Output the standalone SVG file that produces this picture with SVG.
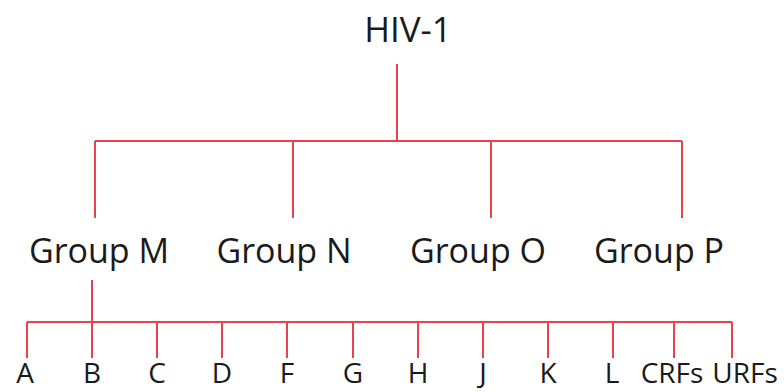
<svg xmlns="http://www.w3.org/2000/svg" width="784" height="392" viewBox="0 0 784 392">
  <style>
    .ln { stroke: #e8424f; stroke-width: 2; fill: none; }
    .t { font-family: "Open Sans", "Liberation Sans", sans-serif; fill: #1a1a1a; text-anchor: middle; }
    .root { font-size: 35px; }
    .grp { font-size: 34px; }
    .sub { font-size: 28px; }
  </style>
  <rect width="784" height="392" fill="#ffffff"/>

  <!-- connectors -->
  <g id="connectors" class="ln">
    <path d="M397 64 V141"/>
    <path d="M95 141 H682"/>
    <path d="M95 141 V218 M293 141 V218 M491 141 V218 M682 141 V218"/>
    <path d="M92 280 V322"/>
    <path d="M27 322 H732"/>
    <path d="M27 322 V358 M92 322 V358 M157 322 V358 M222 322 V358 M287 322 V358 M353 322 V358 M418 322 V358 M483 322 V358 M548 322 V358 M613 322 V358 M674 322 V358 M732 322 V358"/>
  </g>

  <!-- root -->
  <g id="hiv1"><text class="t root" x="408" y="42">HIV-1</text></g>

  <!-- groups -->
  <g id="groupM"><text class="t grp" x="99" y="263">Group M</text></g>
  <g id="groupN"><text class="t grp" x="284" y="263">Group N</text></g>
  <g id="groupO"><text class="t grp" x="478" y="263">Group O</text></g>
  <g id="groupP"><text class="t grp" x="659" y="263">Group P</text></g>

  <!-- subtypes -->
  <g id="subA"><text class="t sub" x="25" y="383">A</text></g>
  <g id="subB"><text class="t sub" x="92" y="383">B</text></g>
  <g id="subC"><text class="t sub" x="157" y="383">C</text></g>
  <g id="subD"><text class="t sub" x="222" y="383">D</text></g>
  <g id="subF"><text class="t sub" x="287" y="383">F</text></g>
  <g id="subG"><text class="t sub" x="353" y="383">G</text></g>
  <g id="subH"><text class="t sub" x="418" y="383">H</text></g>
  <g id="subJ"><text class="t sub" x="483" y="383">J</text></g>
  <g id="subK"><text class="t sub" x="548" y="383">K</text></g>
  <g id="subL"><text class="t sub" x="612" y="383">L</text></g>
  <g id="crfs"><text class="t sub" x="672" y="383">CRFs</text></g>
  <g id="urfs"><text class="t sub" x="745" y="383">URFs</text></g>
</svg>
